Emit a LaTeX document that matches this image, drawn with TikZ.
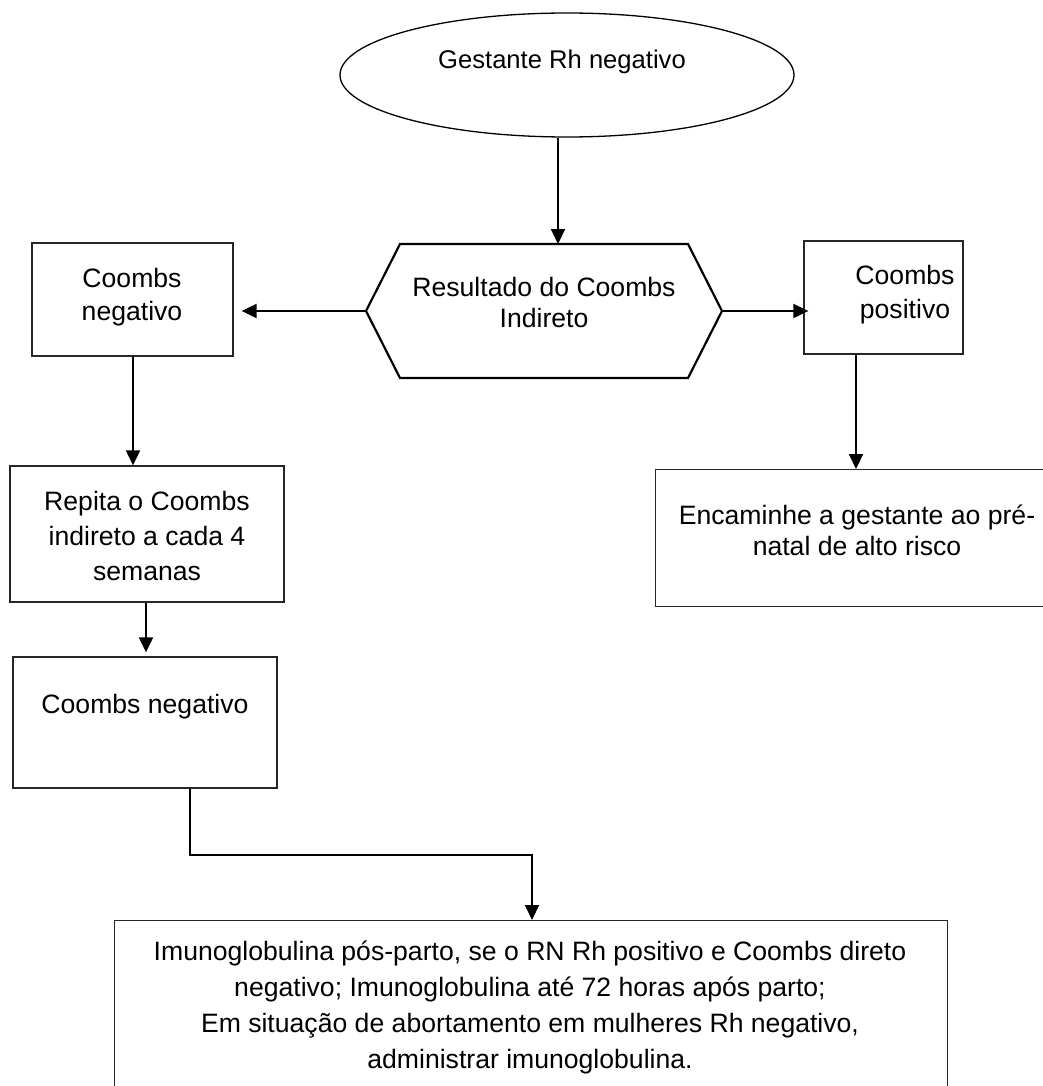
\documentclass[tikz,border=0pt]{standalone}
\usepackage{fontspec}
\setmainfont{Liberation Sans}
\usetikzlibrary{shapes.geometric,arrows.meta,calc}
\begin{document}
\begin{tikzpicture}[x=1pt,y=-1pt,
  box/.style={draw=black!85, line width=1.3pt, rectangle, inner sep=0pt, align=center,
              font=\fontsize{26.6}{35}\selectfont},
  txt/.style={align=center, inner sep=0pt, font=\fontsize{26.6}{35}\selectfont},
  arr/.style={line width=2pt, line join=miter, -{Triangle[length=15pt,width=14pt]}},
]
\useasboundingbox (0,0) rectangle (1043,1086);
\clip (0,0) rectangle (1043,1086);

% start: ellipse
\node[ellipse, draw, line width=1.3pt, minimum width=454pt, minimum height=124pt, inner sep=0pt] (gest) at (567,75) {};
\node[txt, font=\fontsize{25.6}{33}\selectfont] (gesttxt) at (562,62) {Gestante Rh negativo};

% decision: hexagon drawn from an invisible frame
\node[minimum width=356pt, minimum height=134pt, inner sep=0pt, outer sep=0pt] (hex) at (544,311) {};
\draw[line width=2.2pt, line join=miter]
  (hex.west) -- ($(hex.north west)+(34,0)$) -- ($(hex.north east)+(-34,0)$) -- (hex.east)
  -- ($(hex.south east)+(-34,0)$) -- ($(hex.south west)+(34,0)$) -- cycle;
\node[txt, font=\fontsize{26.6}{31}\selectfont] (hextxt) at (544,302) {Resultado do Coombs\\Indireto};

% side results
\node[box, minimum width=201pt, minimum height=113pt, font=\fontsize{26.6}{33}\selectfont] (neg1) at (132.5,299.5) {};
\node[txt, font=\fontsize{26.6}{33}\selectfont] (neg1txt) at (132,297) {Coombs\\negativo};
\node[box, minimum width=159pt, minimum height=113pt] (pos1) at (883.5,297.5) {};
\node[txt, font=\fontsize{26.6}{34}\selectfont] (pos1txt) at (905,295) {Coombs\\positivo};

% high risk referral
\node[box, minimum width=400pt, minimum height=137pt, anchor=north west] (enc) at (655,469) {};
\node[txt, font=\fontsize{26.6}{31}\selectfont] (enctxt) at (857,530) {Encaminhe a gestante ao pré-\\natal de alto risco};

% negative branch
\node[box, minimum width=274pt, minimum height=136pt] (rep) at (147,534) {};
\node[txt] (reptxt) at (147,536) {Repita o Coombs\\indireto a cada 4\\semanas};
\node[box, minimum width=264pt, minimum height=131pt] (neg2) at (145,722.5) {};
\node[txt] (neg2txt) at (145,707) {Coombs negativo};

% final recommendation
\node[box, minimum width=833pt, minimum height=200pt, anchor=north west] (imu) at (114,920) {};
\node[txt, font=\fontsize{26.6}{36}\selectfont] (imutxt) at (530,1007)
  {Imunoglobulina pós-parto, se o RN Rh positivo e Coombs direto\\
   negativo; Imunoglobulina até 72 horas após parto;\\
   Em situação de abortamento em mulheres Rh negativo,\\
   administrar imunoglobulina.};

% connector columns
\coordinate (c1) at (558,0);
\coordinate (c2) at (856,0);
\coordinate (c3) at (133,0);
\coordinate (c4) at (146,0);
\coordinate (bend1) at (190,855);
\coordinate (bend2) at (532,855);

% connectors
\draw[arr] (gest.south -| c1) -- (hex.north -| c1);
\draw[arr, shorten >=8pt] (hex.west) -- (hex.west -| neg1.east);
\draw[arr, shorten >=-5pt] (hex.east) -- (hex.east -| pos1.west);
\draw[arr] (pos1.south -| c2) -- (enc.north -| c2);
\draw[arr] (neg1.south -| c3) -- (rep.north -| c3);
\draw[arr, shorten >=4pt] (rep.south -| c4) -- (neg2.north -| c4);
\draw[arr] (neg2.south -| bend1) -- (bend1) -- (bend2) -- (imu.north -| bend2);
\end{tikzpicture}
\end{document}
